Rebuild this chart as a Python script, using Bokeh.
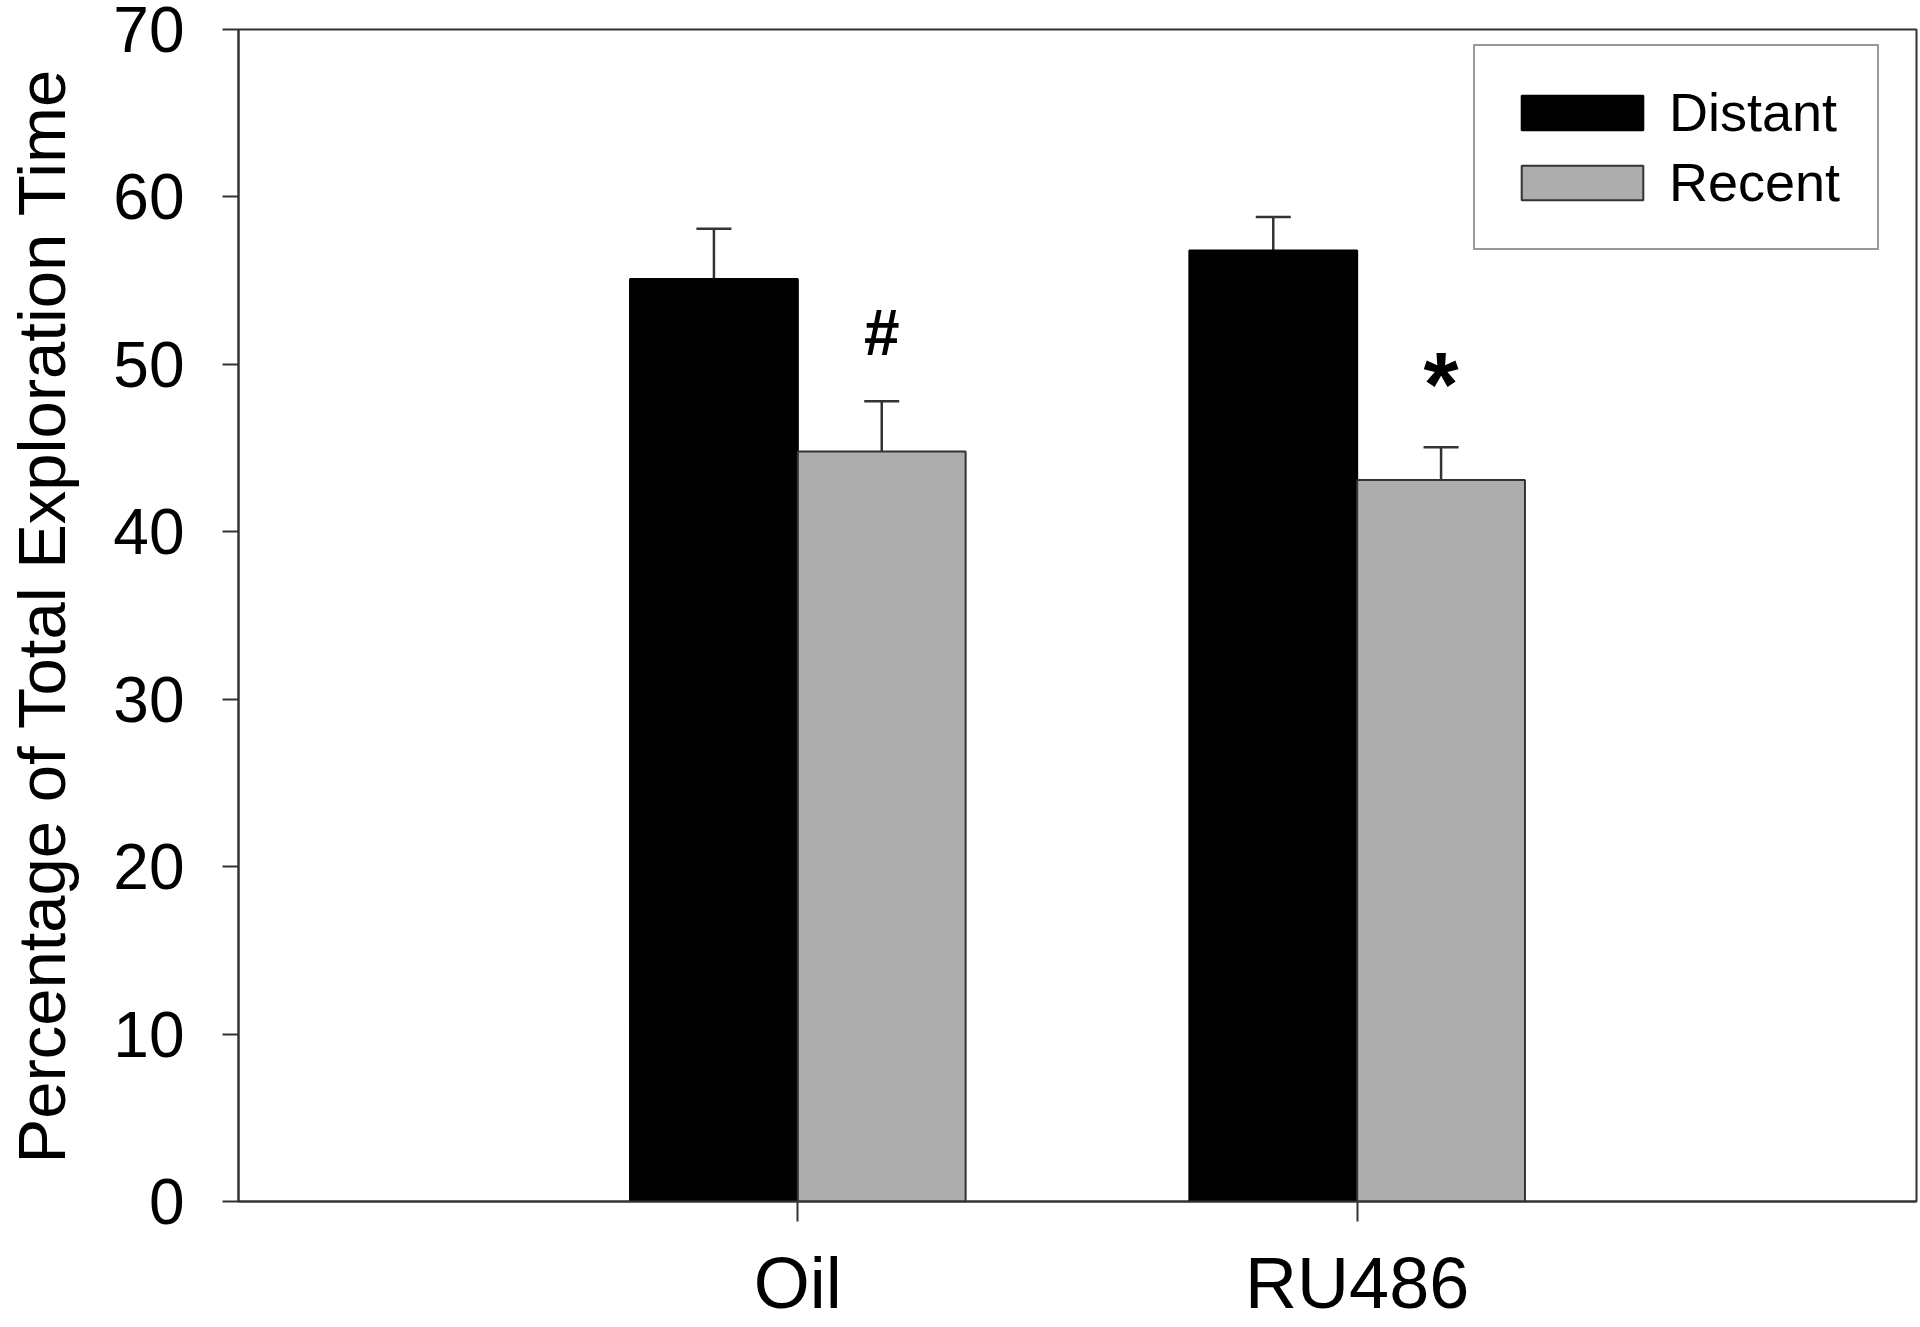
from bokeh.plotting import figure
from bokeh.models import (ColumnDataSource, FactorRange, Range1d, Whisker, TeeHead,
                          Legend, LegendItem)
from bokeh.transform import dodge
from bokeh.core.properties import value
from bokeh.embed import file_html
from bokeh.resources import INLINE

# ---- data ----
groups = ["Oil", "RU486"]
distant = [55.1, 56.8]
distant_se = [3.0, 2.0]
recent = [44.8, 43.1]
recent_se = [3.0, 1.95]
marks = ["#", "*"]
y_ticks = [0, 10, 20, 30, 40, 50, 60, 70]
y_label = "Percentage of Total Exploration Time"
series_names = ["Distant", "Recent"]

# ---- styles ----
FONT = "Liberation Sans"
DARK = "#333333"
GRAY = "#adadad"
mark_font_sizes = ["64px", "90px"]
mark_gap = [4.1, 3.7]   # gap above the error-bar cap (data units)

src = ColumnDataSource(dict(
    group=groups,
    distant=distant,
    recent=recent,
    d_up=[v + e for v, e in zip(distant, distant_se)],
    r_up=[v + e for v, e in zip(recent, recent_se)],
    mark=marks,
    mark_y=[v + e + g for v, e, g in zip(recent, recent_se, mark_gap)],
    mark_size=mark_font_sizes,
))

p = figure(x_range=FactorRange(factors=groups, range_padding=0.5),
           y_range=Range1d(0, 70),
           width=1920, height=1327,
           output_backend="svg", toolbar_location=None,
           min_border_left=238, min_border_right=4,
           min_border_top=29, min_border_bottom=126)

bw = 0.3
r1 = p.vbar(x=dodge("group", -bw / 2, range=p.x_range), top="distant", width=bw,
            source=src, fill_color="black", line_color="black", line_width=2)
r2 = p.vbar(x=dodge("group", bw / 2, range=p.x_range), top="recent", width=bw,
            source=src, fill_color=GRAY, line_color=DARK, line_width=2)

for col_lo, col_hi, off in [("distant", "d_up", -bw / 2), ("recent", "r_up", bw / 2)]:
    w = Whisker(base=dodge("group", off, range=p.x_range), lower=col_lo, upper=col_hi,
                source=src, line_color=DARK, line_width=2.5,
                upper_head=TeeHead(size=35, line_color=DARK, line_width=2.5),
                lower_head=None)
    p.add_layout(w)

p.text(x=dodge("group", bw / 2, range=p.x_range), y="mark_y", text="mark", source=src,
       text_font=value(FONT), text_font_style="bold", text_font_size="mark_size",
       text_align="center", text_baseline="middle", text_color="black")

legend = Legend(items=[LegendItem(label=series_names[0], renderers=[r1]),
                       LegendItem(label=series_names[1], renderers=[r2])],
                location=(1235, 951), margin=0, padding=31, spacing=0,
                glyph_width=152, glyph_height=43, label_height=70, label_width=177,
                label_standoff=11,
                label_text_font=FONT, label_text_font_size="54px", label_text_color="black",
                border_line_color=DARK, border_line_width=2,
                background_fill_color="white", background_fill_alpha=1.0)
p.add_layout(legend)

# axes
p.xgrid.grid_line_color = None
p.ygrid.grid_line_color = None
p.outline_line_color = DARK
p.outline_line_width = 2

p.yaxis.ticker = y_ticks
p.yaxis.axis_label = y_label
p.yaxis.axis_label_text_font = FONT
p.yaxis.axis_label_text_font_size = "67px"
p.yaxis.axis_label_text_font_style = "normal"
p.yaxis.axis_label_text_color = "black"
p.yaxis.axis_label_standoff = 31
p.yaxis.major_label_text_font = FONT
p.yaxis.major_label_text_font_size = "64px"
p.yaxis.major_label_text_color = "black"
p.yaxis.major_label_standoff = 38
p.yaxis.major_tick_out = 16
p.yaxis.major_tick_in = 0
p.yaxis.minor_tick_line_color = None

p.xaxis.major_label_text_font = FONT
p.xaxis.major_label_text_font_size = "72px"
p.xaxis.major_label_text_color = "black"
p.xaxis.major_label_standoff = 21
p.xaxis.major_tick_out = 20
p.xaxis.major_tick_in = 0

for ax in (p.xaxis, p.yaxis):
    ax.axis_line_color = DARK
    ax.axis_line_width = 2
    ax.major_tick_line_color = DARK
    ax.major_tick_line_width = 2

open("out.html", "w").write(file_html(p, INLINE))
